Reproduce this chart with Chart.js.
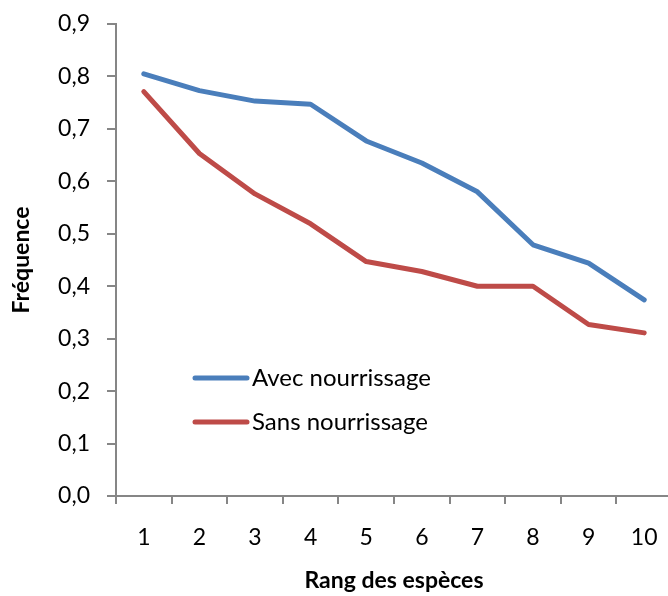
<!DOCTYPE html>
<html>
<head>
<meta charset="utf-8">
<script src="https://cdn.jsdelivr.net/npm/chart.js@4/dist/chart.umd.min.js"></script>
<style>
  html, body { margin: 0; padding: 0; background: #fff; overflow: hidden; }
  #wrap { width: 672px; height: 596px; }
</style>
</head>
<body>
<div id="wrap"><canvas id="myChart" width="672" height="596"></canvas></div>
<script>
// donnees
var rangs = ['1', '2', '3', '4', '5', '6', '7', '8', '9', '10'];
var avecNourrissage = [0.805, 0.773, 0.753, 0.747, 0.677, 0.635, 0.580, 0.479, 0.444, 0.374];
var sansNourrissage = [0.771, 0.653, 0.576, 0.519, 0.447, 0.428, 0.400, 0.400, 0.327, 0.311];
var nomsSeries = ['Avec nourrissage', 'Sans nourrissage'];
var couleurs = ['#4A7EBB', '#BE4B48'];
var yMin = 0, yMax = 0.9, yPas = 0.1;

var police = 'Lato, "Open Sans", sans-serif';
var gris = '#868686';

// legende dessinee dans la zone du graphique
var legendeInterne = {
    id: 'legendeInterne',
    afterDraw: function (chart) {
        var ctx = chart.ctx;
        var lignes = [378, 422];
        ctx.save();
        chart.data.datasets.forEach(function (ds, i) {
            var y = lignes[i];
            ctx.strokeStyle = ds.borderColor;
            ctx.lineWidth = 5;
            ctx.lineCap = 'round';
            ctx.beginPath();
            ctx.moveTo(195, y);
            ctx.lineTo(247, y);
            ctx.stroke();
            ctx.fillStyle = '#000';
            ctx.font = '24px ' + police;
            ctx.textAlign = 'left';
            ctx.textBaseline = 'middle';
            ctx.fillText(ds.label, 252, y);
        });
        ctx.restore();
    }
};

var myChart = new Chart(document.getElementById('myChart'), {
    type: 'line',
    data: {
        labels: rangs,
        datasets: [{
            label: nomsSeries[0],
            data: avecNourrissage,
            borderColor: couleurs[0],
            backgroundColor: couleurs[0],
            borderWidth: 5,
            pointRadius: 0,
            tension: 0,
            borderCapStyle: 'round',
            borderJoinStyle: 'round'
        }, {
            label: nomsSeries[1],
            data: sansNourrissage,
            borderColor: couleurs[1],
            backgroundColor: couleurs[1],
            borderWidth: 5,
            pointRadius: 0,
            tension: 0,
            borderCapStyle: 'round',
            borderJoinStyle: 'round'
        }]
    },
    options: {
        responsive: false,
        animation: false,
        layout: { padding: { left: 0, right: 0, top: 24, bottom: 0 } },
        plugins: {
            legend: { display: false },
            tooltip: { enabled: false }
        },
        scales: {
            x: {
                offset: true,
                grid: { offset: true, drawOnChartArea: false, drawTicks: true, tickLength: 8, color: gris, lineWidth: 2 },
                border: { color: gris, width: 2 },
                ticks: { color: '#000', font: { family: police, size: 23 }, padding: 20, maxRotation: 0 },
                title: {
                    display: true,
                    text: 'Rang des espèces',
                    color: '#000',
                    font: { family: police, size: 23, weight: 'bold' },
                    padding: { top: 0, bottom: 2 }
                },
                afterFit: function (scale) {
                    scale.height = 100;
                    scale.paddingLeft = 0;
                    scale.paddingRight = 0;
                }
            },
            y: {
                min: yMin,
                max: yMax,
                grid: { drawOnChartArea: false, drawTicks: true, tickLength: 9, color: gris, lineWidth: 2 },
                border: { color: gris, width: 2 },
                ticks: {
                    stepSize: yPas,
                    color: '#000',
                    font: { family: police, size: 23 },
                    padding: 17,
                    callback: function (v) { return v.toFixed(1).replace('.', ','); }
                },
                title: {
                    display: true,
                    text: 'Fréquence',
                    color: '#000',
                    font: { family: police, size: 23, weight: 'bold' },
                    padding: { top: 8, bottom: 0 }
                },
                afterFit: function (scale) {
                    scale.width = 116;
                    scale.paddingTop = 12;
                    scale.paddingBottom = 0;
                }
            }
        }
    },
    plugins: [legendeInterne]
});
</script>
</body>
</html>
